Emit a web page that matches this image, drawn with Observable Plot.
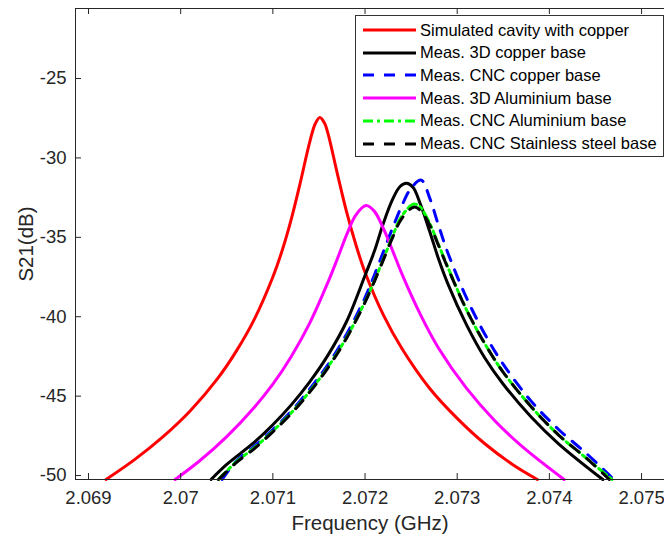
<!DOCTYPE html>
<html><head><meta charset="utf-8">
<script src="https://cdn.jsdelivr.net/npm/d3@7"></script>
<script src="https://cdn.jsdelivr.net/npm/@observablehq/plot@0.6"></script>
<style>
body{margin:0;background:#fff;}
#wrap{position:relative;width:664px;height:539px;overflow:hidden;font-family:"Liberation Sans",Arial,sans-serif;}
#legend{position:absolute;left:355px;top:15px;width:309px;height:142px;border:1px solid #333;background:#fff;box-sizing:border-box;}
.row{position:absolute;left:0;height:22px;display:flex;align-items:center;}
.row span{font-size:16.5px;color:#000;white-space:nowrap;margin-left:4px;}
</style></head>
<body><div id="wrap"><div id="chart"></div><div id="legend"></div></div>
<script>
// ---- data ----
const xTicks = [2.069, 2.07, 2.071, 2.072, 2.073, 2.074, 2.075];
const xTickLabels = ["2.069", "2.07", "2.071", "2.072", "2.073", "2.074", "2.075"];
const yTicks = [-50, -45, -40, -35, -30, -25];
const xDomain = [2.068859, 2.075249];
const yDomain = [-50.25, -20.59];

const seriesNames = ["Simulated cavity with copper", "Meas. 3D copper base", "Meas. CNC copper base",
  "Meas. 3D Aluminium base", "Meas. CNC Aluminium base", "Meas. CNC Stainless steel base"];
const seriesColors = ["#ff0000", "#000000", "#0000ff", "#ff00ff", "#00ff00", "#000000"];
const seriesDash = [null, null, "11,10", null, "10,4,3,4", "11,10"];

const simFreq = [2.06919, 2.0695, 2.0698, 2.0701, 2.0704, 2.0706, 2.0708, 2.0710, 2.0711, 2.0712, 2.0713, 2.0714, 2.07146, 2.07151, 2.07156, 2.0716, 2.0717, 2.0718, 2.0719, 2.0720, 2.0722, 2.0724, 2.0727, 2.0730, 2.0733, 2.0736, 2.07387];
const simDb = [-50.25, -49.0, -47.6, -45.95, -43.9, -42.2, -40.15, -37.5, -35.85, -33.85, -31.5, -29.0, -27.85, -27.45, -27.8, -28.5, -31.0, -33.4, -35.45, -37.2, -39.9, -42.0, -44.5, -46.4, -48.0, -49.3, -50.25];

const cu3dFreq = [2.07033, 2.0705, 2.0708, 2.0710, 2.0712, 2.0714, 2.0716, 2.0718, 2.0720, 2.0721, 2.0722, 2.0723, 2.07238, 2.07245, 2.07252, 2.0726, 2.0727, 2.0728, 2.0729, 2.0731, 2.0733, 2.0735, 2.0738, 2.0741, 2.07458];
const cu3dDb = [-50.25, -49.3, -47.9, -46.8, -45.55, -44.1, -42.4, -40.3, -37.4, -35.9, -34.1, -32.6, -31.8, -31.6, -31.85, -32.9, -34.6, -36.4, -37.95, -40.5, -42.6, -44.25, -46.3, -48.0, -50.25];

const cuCncFreq = [2.07045, 2.0706, 2.0708, 2.0710, 2.0712, 2.0714, 2.0716, 2.0718, 2.0720, 2.0721, 2.0722, 2.0723, 2.0724, 2.0725, 2.07261, 2.0727, 2.0728, 2.0729, 2.0731, 2.0733, 2.0735, 2.0738, 2.0741, 2.0744, 2.0747];
const cuCncDb = [-50.25, -49.1, -48.15, -47.1, -45.95, -44.55, -43.0, -41.1, -38.8, -37.4, -35.9, -34.4, -33.0, -31.9, -31.4, -32.5, -34.3, -36.0, -38.8, -41.1, -43.0, -45.3, -47.1, -48.6, -50.25];

const al3dFreq = [2.06994, 2.0702, 2.0705, 2.0708, 2.0710, 2.0712, 2.0714, 2.0716, 2.0717, 2.0718, 2.0719, 2.07201, 2.0721, 2.0722, 2.0723, 2.0724, 2.0726, 2.0728, 2.0731, 2.0734, 2.0737, 2.07416];
const al3dDb = [-50.25, -49.1, -47.55, -45.7, -44.25, -42.5, -40.4, -37.8, -36.35, -34.85, -33.6, -33.0, -33.35, -34.45, -35.85, -37.3, -39.85, -42.0, -44.5, -46.5, -48.15, -50.25];

const alCncFreq = [2.07041, 2.0706, 2.0708, 2.0710, 2.0712, 2.0714, 2.0716, 2.0718, 2.0720, 2.0721, 2.0722, 2.0723, 2.0724, 2.07253, 2.0726, 2.0727, 2.0728, 2.0729, 2.0731, 2.0733, 2.0735, 2.0738, 2.0741, 2.0744, 2.07468];
const alCncDb = [-50.25, -49.15, -48.25, -47.2, -46.05, -44.7, -43.15, -41.3, -39.05, -37.75, -36.35, -34.9, -33.65, -32.9, -33.1, -34.1, -35.5, -36.9, -39.55, -41.7, -43.5, -45.65, -47.45, -48.9, -50.25];

const ssCncFreq = [2.07041, 2.0706, 2.0708, 2.0710, 2.0712, 2.0714, 2.0716, 2.0718, 2.0720, 2.0721, 2.0722, 2.0723, 2.0724, 2.07253, 2.0726, 2.0727, 2.0728, 2.0729, 2.0731, 2.0733, 2.0735, 2.0738, 2.0741, 2.0744, 2.07465];
const ssCncDb = [-50.25, -49.2, -48.3, -47.25, -46.1, -44.75, -43.2, -41.35, -39.1, -37.8, -36.4, -35.0, -33.8, -33.1, -33.3, -34.2, -35.55, -36.95, -39.55, -41.7, -43.5, -45.65, -47.45, -48.9, -50.25];

const seriesFreq = [simFreq, cu3dFreq, cuCncFreq, al3dFreq, alCncFreq, ssCncFreq];
const seriesDb = [simDb, cu3dDb, cuCncDb, al3dDb, alCncDb, ssCncDb];

// ---- chart ----
const W = 664, H = 539;
const mL = 75, mT = 8, mR = 0, mB = 60;
const innerW = W - mL - mR, innerH = H - mT - mB;
const axisColor = "#262626";
const tickLen = 6;

const lineMarks = seriesNames.map((name, i) => {
  const rows = seriesFreq[i].map((f, j) => ({f, db: seriesDb[i][j], name}));
  return Plot.line(rows, {x: "f", y: "db", stroke: seriesColors[i], strokeWidth: 3,
    strokeDasharray: seriesDash[i] || undefined, curve: "catmull-rom", strokeLinejoin: "round"});
});

const chart = Plot.plot({
  width: W, height: H,
  marginLeft: mL, marginTop: mT, marginRight: mR, marginBottom: mB,
  style: {fontFamily: '"Liberation Sans", Arial, sans-serif', background: "white"},
  x: {domain: xDomain, axis: null},
  y: {domain: yDomain, axis: null},
  marks: [
    ...lineMarks,
    // frame lines (left, bottom, top)
    Plot.ruleX([xDomain[0]], {stroke: axisColor, strokeWidth: 1}),
    Plot.ruleY([yDomain[0], yDomain[1]], {stroke: axisColor, strokeWidth: 1}),
    // inward ticks
    Plot.ruleX(xTicks, {stroke: axisColor, insetTop: innerH - tickLen}),
    Plot.ruleX(xTicks, {stroke: axisColor, insetBottom: innerH - tickLen}),
    Plot.ruleY(yTicks, {stroke: axisColor, insetRight: innerW - tickLen}),
    // tick labels
    Plot.axisX(xTicks, {anchor: "bottom", tickSize: 0, tickPadding: 11, fontSize: 18.5, color: axisColor,
      tickFormat: d => xTickLabels[xTicks.indexOf(d)], label: null}),
    Plot.axisY(yTicks, {anchor: "left", tickSize: 0, tickPadding: 9, fontSize: 18.5, color: axisColor,
      tickFormat: d => String(d), label: null}),
    // axis titles
    Plot.text(["Frequency (GHz)"], {frameAnchor: "bottom", dy: 44, fontSize: 20.5, fill: axisColor,
      textAnchor: "middle", lineAnchor: "middle"}),
    Plot.text(["S21(dB)"], {frameAnchor: "left", dx: -49, rotate: -90, fontSize: 20.5, fill: axisColor,
      textAnchor: "middle", lineAnchor: "middle"})
  ]
});
document.getElementById("chart").appendChild(chart);

// ---- legend (inside axes, top-right) ----
const leg = document.getElementById("legend");
seriesNames.forEach((name, i) => {
  const row = document.createElement("div");
  row.className = "row";
  row.style.top = (3 + i * 22.7) + "px";
  const svgNS = "http://www.w3.org/2000/svg";
  const svg = document.createElementNS(svgNS, "svg");
  svg.setAttribute("width", "60"); svg.setAttribute("height", "22");
  const ln = document.createElementNS(svgNS, "line");
  ln.setAttribute("x1", "7"); ln.setAttribute("x2", "60");
  ln.setAttribute("y1", "11"); ln.setAttribute("y2", "11");
  ln.setAttribute("stroke", seriesColors[i]); ln.setAttribute("stroke-width", "3");
  if (seriesDash[i]) ln.setAttribute("stroke-dasharray", seriesDash[i]);
  svg.appendChild(ln);
  const sp = document.createElement("span");
  sp.textContent = name;
  row.appendChild(svg); row.appendChild(sp);
  leg.appendChild(row);
});
</script>
</body></html>
